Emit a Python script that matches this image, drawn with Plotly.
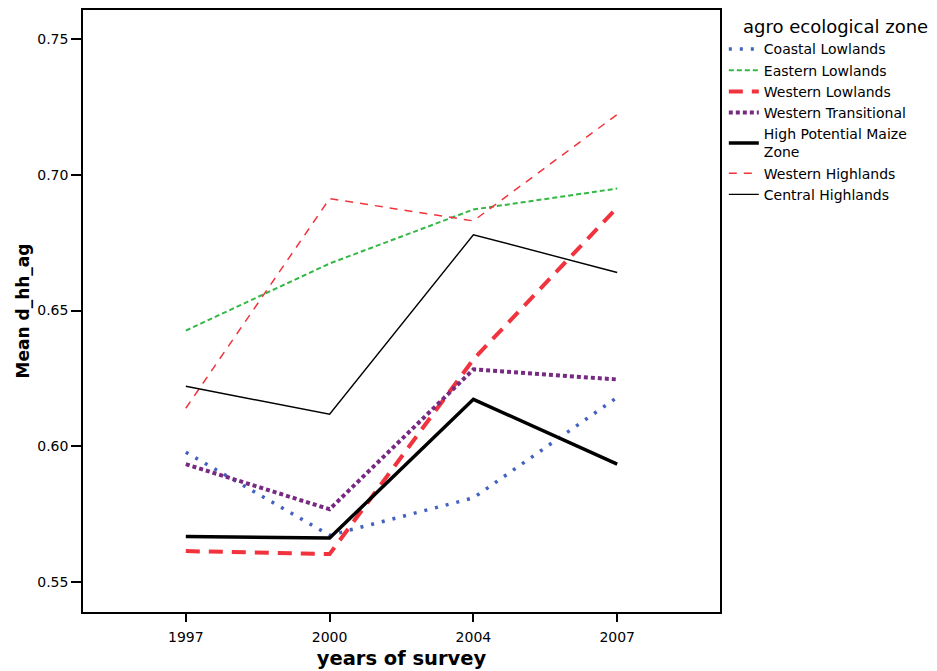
import plotly.graph_objects as go

years = ["1997", "2000", "2004", "2007"]
zones = ["Coastal Lowlands", "Eastern Lowlands", "Western Lowlands",
         "Western Transitional", "High Potential Maize<br>Zone",
         "Western Highlands", "Central Highlands"]
coastal_lowlands = [0.5978, 0.5672, 0.5810, 0.6180]
eastern_lowlands = [0.6426, 0.6673, 0.6872, 0.6949]
western_lowlands = [0.5614, 0.5603, 0.6320, 0.6879]
western_transitional = [0.5934, 0.5768, 0.6283, 0.6246]
high_potential_maize = [0.5668, 0.5662, 0.6173, 0.5934]
western_highlands = [0.6140, 0.6912, 0.6830, 0.7222]
central_highlands = [0.6221, 0.6118, 0.6779, 0.6640]
y_ticks = [0.55, 0.60, 0.65, 0.70, 0.75]

series = [coastal_lowlands, eastern_lowlands, western_lowlands,
          western_transitional, high_potential_maize,
          western_highlands, central_highlands]
styles = [
    dict(color="#4262bf", width=3.5, dash="3px,8px"),
    dict(color="#33b845", width=2, dash="5px,3px"),
    dict(color="#f0333c", width=4, dash="14px,9px"),
    dict(color="#782a82", width=4, dash="4px,3px"),
    dict(color="#000000", width=3.5, dash="solid"),
    dict(color="#f0333c", width=1.5, dash="8px,7px"),
    dict(color="#000000", width=1.4, dash="solid"),
]

fig = go.Figure()
for name, vals, st in zip(zones, series, styles):
    fig.add_trace(go.Scatter(x=years, y=vals, mode="lines", name=name,
                             line=st))

fig.update_layout(
    width=929, height=663,
    margin=dict(l=75, r=217, t=0, b=59),
    paper_bgcolor="white", plot_bgcolor="white",
    font=dict(family="DejaVu Sans, sans-serif", size=14, color="black"),
    showlegend=True,
    legend=dict(
        x=1.006, y=1.0, xanchor="left", yanchor="top",
        title=dict(text="&nbsp;&nbsp;&nbsp;agro ecological zone",
                   font=dict(size=18)),
        font=dict(size=14), tracegroupgap=0, itemwidth=30,
        bgcolor="rgba(0,0,0,0)",
    ),
    xaxis=dict(
        type="category", range=[-0.715, 3.715],
        showline=True, linecolor="black", linewidth=1.5, mirror=True,
        ticks="outside", ticklen=8, tickwidth=1.5, tickcolor="black",
        ticklabelstandoff=3, tickfont=dict(size=14),
        showgrid=False, zeroline=False,
        title=dict(text="<b>years of survey</b>", font=dict(size=19.5), standoff=8),
    ),
    yaxis=dict(
        range=[0.53897, 0.76066],
        tickvals=y_ticks, tickformat=".2f", tickfont=dict(size=14),
        showline=True, linecolor="black", linewidth=1.5, mirror=True,
        ticks="outside", ticklen=10, tickwidth=1.5, tickcolor="black",
        showgrid=False, zeroline=False,
        title=dict(text="<b>Mean d_hh_ag</b>", font=dict(size=17), standoff=3),
    ),
)

fig.write_html("out.html")
